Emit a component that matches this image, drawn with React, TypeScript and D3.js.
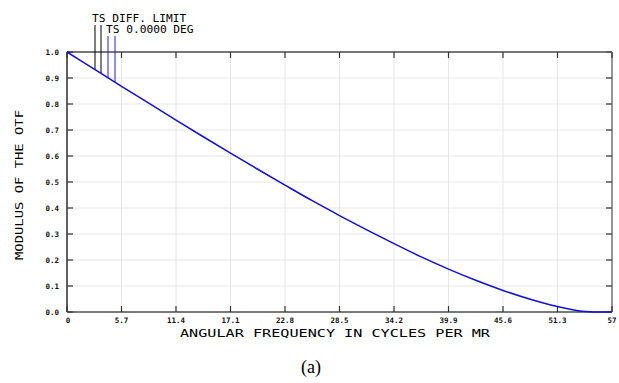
import React from "react";
import * as d3 from "d3";

const freq = [0, 2.85, 5.7, 8.55, 11.4, 14.25, 17.1, 19.95, 22.8, 25.65, 28.5, 31.35, 34.2, 37.05, 39.9, 42.75, 45.6, 48.45, 51.3, 54.15, 55, 57];
const mtf = [1.0, 0.934, 0.868, 0.803, 0.738, 0.674, 0.611, 0.549, 0.488, 0.428, 0.371, 0.316, 0.263, 0.212, 0.165, 0.122, 0.083, 0.049, 0.021, 0.002, 0.0, 0.0];
const xTicks = [0, 5.7, 11.4, 17.1, 22.8, 28.5, 34.2, 39.9, 45.6, 51.3, 57];
const xTickLabels = ["0", "5.7", "11.4", "17.1", "22.8", "28.5", "34.2", "39.9", "45.6", "51.3", "57"];
const yTicks = [0, 0.1, 0.2, 0.3, 0.4, 0.5, 0.6, 0.7, 0.8, 0.9, 1.0];
const legendLabels = ["TS DIFF. LIMIT", "TS 0.0000 DEG"];

const W = 619, H = 383;
const L = 67, R = 612, T = 52, B = 312;

export default function App() {
  const x = d3.scaleLinear().domain([0, 57]).range([L, R]);
  const y = d3.scaleLinear().domain([0, 1]).range([B, T]);
  const line = d3.line<number>().x((_, i) => x(freq[i])).y((d) => y(d)).curve(d3.curveMonotoneX);
  const path = line(mtf) || "";
  const interp = (f: number) => {
    for (let i = 0; i < freq.length - 1; i++) {
      if (f >= freq[i] && f <= freq[i + 1]) {
        const t = (f - freq[i]) / (freq[i + 1] - freq[i]);
        return mtf[i] + t * (mtf[i + 1] - mtf[i]);
      }
    }
    return 0;
  };
  const markerX = [95, 101, 108, 115];
  const markerTop = [25, 25, 36, 36];
  const markerColor = ["#000", "#000", "#1f1fe0", "#1f1fe0"];
  const mono = "'DejaVu Sans Mono', monospace";
  return (
    <svg width={W} height={H} style={{ position: "absolute", left: 0, top: 0, background: "#fff" }}>
      {xTicks.map((t, i) => (
        <line key={"gx" + i} x1={x(t)} x2={x(t)} y1={T} y2={B} stroke="#e6e6e6" strokeWidth={1} />
      ))}
      {yTicks.map((t, i) => (
        <line key={"gy" + i} x1={L} x2={R} y1={y(t)} y2={y(t)} stroke="#e6e6e6" strokeWidth={1} />
      ))}
      {/* frame */}
      <line x1={L} x2={R} y1={T} y2={T} stroke="#777" strokeWidth={2} />
      <line x1={R} x2={R} y1={T} y2={B} stroke="#777" strokeWidth={1.5} />
      <line x1={L} x2={L} y1={T} y2={B} stroke="#000" strokeWidth={1.2} />
      <line x1={L} x2={R} y1={B} y2={B} stroke="#000" strokeWidth={1.2} />
      {/* ticks */}
      {xTicks.map((t, i) => (
        <g key={"tx" + i}>
          <line x1={x(t)} x2={x(t)} y1={B} y2={B - 6} stroke="#333" strokeWidth={1.2} />
          <line x1={x(t)} x2={x(t)} y1={T} y2={T + 6} stroke="#333" strokeWidth={1.2} />
          <text x={i === 0 ? x(t) + 1 : x(t)} y={323} fontFamily={mono} fontWeight="bold" fontSize={7.5} textAnchor="middle" fill="#111">
            {xTickLabels[i]}
          </text>
        </g>
      ))}
      {yTicks.map((t, i) => (
        <g key={"ty" + i}>
          <line x1={L} x2={L + 6} y1={y(t)} y2={y(t)} stroke="#333" strokeWidth={1.2} />
          <line x1={R} x2={R - 6} y1={y(t)} y2={y(t)} stroke="#555" strokeWidth={1.5} />
          <text x={59} y={y(t) + 3} fontFamily={mono} fontWeight="bold" fontSize={7.5} textAnchor="end" fill="#111">
            {t.toFixed(1)}
          </text>
        </g>
      ))}
      {/* legend marker lines */}
      {markerX.map((mx, i) => (
        <line key={"m" + i} x1={mx} x2={mx} y1={markerTop[i]} y2={y(interp(x.invert(mx)))} stroke={markerColor[i]} strokeWidth={1} />
      ))}
      <text x={92} y={21.5} fontFamily={mono} fontSize={11.2} fill="#000">{legendLabels[0]}</text>
      <text x={106} y={32.5} fontFamily={mono} fontSize={11.2} fill="#000">{legendLabels[1]}</text>
      {/* curve */}
      <path d={path} fill="none" stroke="#1010d8" strokeWidth={1.5} />
      {/* axis titles */}
      <text x={180} y={336.5} fontFamily={mono} fontSize={10} textLength={310} lengthAdjust="spacingAndGlyphs" fill="#000">
        ANGULAR FREQUENCY IN CYCLES PER MR
      </text>
      <text transform="translate(23,185) rotate(-90)" fontFamily={mono} fontSize={10} textAnchor="middle" textLength={150} lengthAdjust="spacingAndGlyphs" fill="#000">
        MODULUS OF THE OTF
      </text>
      <text x={311} y={373} fontFamily="'Liberation Serif', 'Times New Roman', serif" fontSize={18} textAnchor="middle" fill="#000">
        (a)
      </text>
    </svg>
  );
}
